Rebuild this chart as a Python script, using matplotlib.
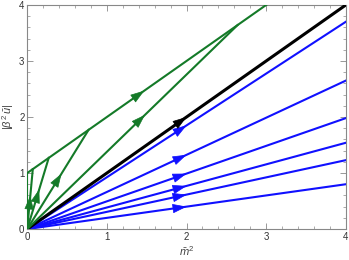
import numpy as np
import matplotlib
matplotlib.use("Agg")
import matplotlib.pyplot as plt
from matplotlib.ticker import MultipleLocator

plt.rcParams['font.family'] = ['Liberation Sans', 'DejaVu Sans']
plt.rcParams['mathtext.fontset'] = 'custom'
plt.rcParams['mathtext.rm'] = 'Liberation Sans'
plt.rcParams['mathtext.it'] = 'Liberation Sans:italic'

# data
blue_end_y = [3.70, 2.65, 1.98, 1.54, 1.23, 0.80]   # values at m^2 = 4
black_end_y = 4.0
green_turn_x = [0.0, 0.07, 0.27, 0.77, 2.64]          # points where trajectories join |u|=1+m^2
green_offset = 1.0
x_max = 4.0
xticks = [0, 1, 2, 3, 4]
yticks = [0, 1, 2, 3, 4]

GREEN = '#147a28'
BLUE = '#1010ff'

fig = plt.figure(figsize=(3.49, 2.60), dpi=100)
ax = fig.add_axes([0.078, 0.119, 0.913, 0.862])

def arrow(x0, y0, x1, y1, frac, color, ms=10):
    tx = x0 + frac * (x1 - x0)
    ty = y0 + frac * (y1 - y0)
    bx = x0 + (frac - 0.02) * (x1 - x0)
    by = y0 + (frac - 0.02) * (y1 - y0)
    ax.annotate('', xy=(tx, ty), xytext=(bx, by),
                arrowprops=dict(arrowstyle='-|>,head_length=0.9,head_width=0.3',
                                color=color, lw=0.5, shrinkA=0, shrinkB=0,
                                mutation_scale=ms), zorder=5)

# blue trajectories
for ye in blue_end_y:
    ax.plot([0, x_max], [0, ye], color=BLUE, lw=1.5, zorder=2)
    arrow(0, 0, x_max, ye, 0.5, BLUE)

# black separatrix
ax.plot([0, x_max], [0, black_end_y], color='black', lw=2.2, zorder=3)
arrow(0, 0, x_max, black_end_y, 0.5, 'black')

# green trajectories
ax.plot([0, x_max], [green_offset, green_offset + x_max], color=GREEN, lw=1.5, zorder=4)
arrow(0, green_offset, 3.0, 3.0 + green_offset, 0.49, GREEN)
for xt in green_turn_x:
    ax.plot([0, xt], [0, green_offset + xt], color=GREEN, lw=1.5, zorder=4)
    if xt > 0:
        arrow(0, 0, xt, green_offset + xt, 0.56, GREEN)

ax.set_xlim(0, 4)
ax.set_ylim(0, 4)
ax.set_xticks(xticks)
ax.set_yticks(yticks)
ax.xaxis.set_minor_locator(MultipleLocator(0.2))
ax.yaxis.set_minor_locator(MultipleLocator(0.2))
ax.tick_params(which='both', direction='in', top=True, right=True,
               color='#888888', labelsize=7, pad=2, labelcolor='#333333')
ax.tick_params(which='major', length=4, width=0.6)
ax.tick_params(which='minor', length=2, width=0.5)
for s in ax.spines.values():
    s.set_color('#888888')
    s.set_linewidth(0.8)

ax.set_xlabel(r'$\bar{m}^2$', fontsize=8, color='#444444', labelpad=2)
ax.set_ylabel(r'$|\beta^2\,\bar{u}|$', fontsize=8, color='#444444', labelpad=2)

fig.savefig('out.png', dpi=100)
